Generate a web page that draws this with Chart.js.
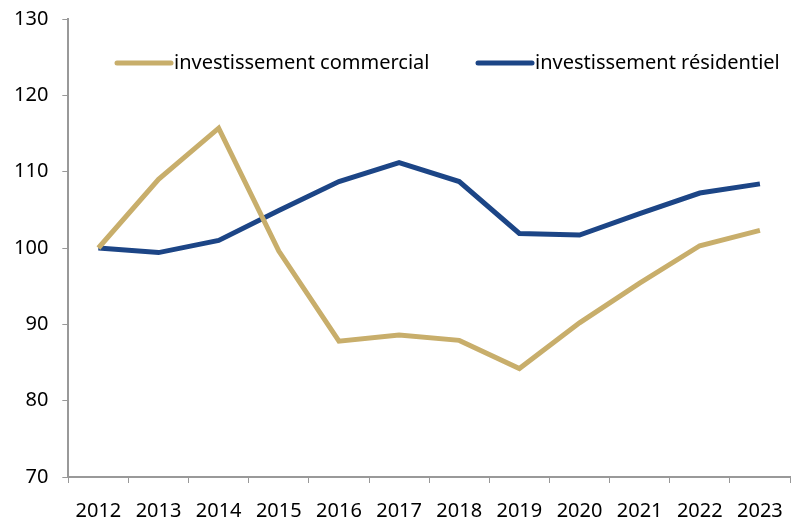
<!DOCTYPE html>
<html lang="fr">
<head>
    <meta charset="UTF-8">
    <title>Investissement commercial et résidentiel</title>
    <style>
        body {
            margin: 0;
            background: white;
        }
        canvas {
            display: block;
        }
    </style>
    <script src="https://cdn.jsdelivr.net/npm/chart.js"></script>
</head>
<body>
    <canvas id="myChart" width="796" height="519"></canvas>
    <script>
        // Données (indice, 2012 = 100)
        const years = ['2012', '2013', '2014', '2015', '2016', '2017', '2018', '2019', '2020', '2021', '2022', '2023'];
        const commercial = [100, 109.0, 115.7, 99.6, 87.8, 88.6, 87.9, 84.2, 90.2, 95.4, 100.3, 102.3];
        const residentiel = [100, 99.4, 101.0, 104.9, 108.7, 111.2, 108.7, 101.9, 101.7, 104.5, 107.2, 108.4];
        const seriesLabels = ['investissement commercial', 'investissement résidentiel'];

        const fontFamily = '"Noto Sans", "Open Sans", sans-serif';

        // Légende dessinée dans la zone du graphique
        const insideLegend = {
            id: 'insideLegend',
            afterDraw(chart) {
                const ctx = chart.ctx;
                const xs = [117, 478];
                const y = 63;
                ctx.save();
                chart.data.datasets.forEach((ds, i) => {
                    const x = xs[i];
                    ctx.strokeStyle = ds.borderColor;
                    ctx.lineWidth = 5;
                    ctx.lineCap = 'round';
                    ctx.beginPath();
                    ctx.moveTo(x, y);
                    ctx.lineTo(x + 54, y);
                    ctx.stroke();
                    ctx.fillStyle = '#000';
                    ctx.font = '20px ' + fontFamily;
                    ctx.textBaseline = 'middle';
                    ctx.textAlign = 'left';
                    ctx.fillText(ds.label, x + 57, y);
                });
                ctx.restore();
            }
        };

        const ctx = document.getElementById('myChart').getContext('2d');
        new Chart(ctx, {
            type: 'line',
            data: {
                labels: years,
                datasets: [
                    {
                        label: seriesLabels[0],
                        data: commercial,
                        borderColor: '#c8ae6b',
                        borderWidth: 5,
                        pointRadius: 0,
                        tension: 0,
                        fill: false
                    },
                    {
                        label: seriesLabels[1],
                        data: residentiel,
                        borderColor: '#1c4586',
                        borderWidth: 5,
                        pointRadius: 0,
                        tension: 0,
                        fill: false
                    }
                ]
            },
            options: {
                responsive: false,
                animation: false,
                layout: {
                    padding: { top: 0, right: 0, left: 0, bottom: -20 }
                },
                plugins: {
                    legend: { display: false },
                    tooltip: { enabled: false }
                },
                scales: {
                    x: {
                        offset: true,
                        afterFit(scale) {
                            // axis runs almost to the right edge
                            scale.paddingRight = 6;
                            scale.paddingLeft = 0;
                        },
                        grid: {
                            display: true,
                            drawOnChartArea: false,
                            drawTicks: true,
                            tickLength: 6,
                            color: '#999',
                            offset: true
                        },
                        border: { display: true, color: '#999', width: 2 },
                        ticks: {
                            color: '#000',
                            font: { family: fontFamily, size: 20 },
                            padding: 16,
                            maxRotation: 0,
                            autoSkip: false
                        }
                    },
                    y: {
                        min: 70,
                        max: 130,
                        afterFit(scale) {
                            // place 130 close to the top edge
                            scale.paddingTop = 19;
                        },
                        grid: {
                            display: true,
                            drawOnChartArea: false,
                            drawTicks: true,
                            tickLength: 6,
                            color: '#999'
                        },
                        border: { display: true, color: '#999', width: 2 },
                        ticks: {
                            stepSize: 10,
                            color: '#000',
                            font: { family: fontFamily, size: 20 },
                            padding: 14
                        }
                    }
                }
            },
            plugins: [insideLegend]
        });
    </script>
</body>
</html>
